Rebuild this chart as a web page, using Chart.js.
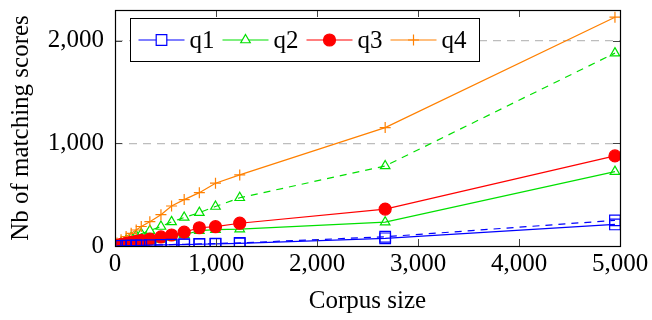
<!DOCTYPE html>
<html><head><meta charset="utf-8">
<script src="https://cdn.jsdelivr.net/npm/chart.js@4/dist/chart.umd.min.js"></script>
<style>html,body{margin:0;padding:0;background:#fff}canvas{display:block}</style>
</head><body>
<canvas id="c" width="652" height="320"></canvas>
<script>
// ---- data ----
const corpusSize = [20, 60, 110, 160, 210, 260, 345, 455, 560, 685, 835, 995, 1235, 2675, 4950];
const q1       = [1, 2, 3, 4, 5, 6, 8, 10, 12, 14, 17, 20, 26, 75, 210];
const q1Dashed = [1, 2, 3, 4, 5, 7, 9, 11, 14, 17, 20, 24, 30, 90, 250];
const q2       = [3, 8, 14, 20, 27, 35, 48, 65, 85, 110, 150, 160, 165, 232, 725];
const q2Dashed = [10, 30, 55, 80, 100, 120, 150, 190, 235, 278, 325, 385, 470, 780, 1880];
const q3       = [6, 15, 25, 35, 45, 54, 68, 88, 107, 135, 178, 188, 222, 360, 878];
const q4       = [30, 60, 92, 124, 156, 190, 237, 305, 390, 452, 520, 612, 693, 1154, 2230];
const xTickValues = [0, 1000, 2000, 3000, 4000, 5000];
const yTickValues = [0, 1000, 2000];
const legendLabels = ['q1', 'q2', 'q3', 'q4'];
const xTitle = 'Corpus size';
const yTitle = 'Nb of matching scores';

const FONT = "'Liberation Serif', 'Times New Roman', serif";
const FS = 25;
Chart.defaults.font.family = FONT;
Chart.defaults.font.size = FS;
Chart.defaults.color = '#000';

const BLUE = '#0000ff', GREEN = '#00e000', RED = '#ff0000', ORANGE = '#ff8000';

function pts(ys) { return corpusSize.map((x, i) => ({x, y: ys[i]})); }
function ds(label, ys, color, style, radius, opts) {
  return Object.assign({
    label, data: pts(ys),
    borderColor: color, backgroundColor: color,
    borderWidth: 1.2, pointStyle: style, pointRadius: radius,
    pointBorderColor: color, pointBackgroundColor: 'rgba(0,0,0,0)',
    pointBorderWidth: 1.2, tension: 0, fill: false
  }, opts || {});
}

const datasets = [
  ds(legendLabels[0], q1, BLUE, 'rect', 7.5, {legendIndex: 0}),
  ds(legendLabels[2], q3, RED, 'circle', 6, {legendIndex: 2, pointBackgroundColor: RED}),
  ds(legendLabels[3], q4, ORANGE, 'cross', 5.5, {legendIndex: 3}),
  ds(legendLabels[1], q2, GREEN, 'triangle', 5.5, {legendIndex: 1}),
  ds(legendLabels[0] + ' (dashed)', q1Dashed, BLUE, 'rect', 7.5, {borderDash: [7, 6]}),
  ds(legendLabels[1] + ' (dashed)', q2Dashed, GREEN, 'triangle', 5.5, {borderDash: [7, 6]})
];

function drawMarker(ctx, style, x, y, r) {
  ctx.beginPath();
  if (style === 'rect') {
    const s = r * Math.SQRT1_2;
    ctx.rect(x - s, y - s, 2 * s, 2 * s); ctx.fill(); ctx.stroke();
  } else if (style === 'circle') {
    ctx.arc(x, y, r, 0, Math.PI * 2); ctx.fill(); ctx.stroke();
  } else if (style === 'triangle') {
    for (let k = 0; k < 3; k++) {
      const a = -Math.PI / 2 + k * 2 * Math.PI / 3;
      const px = x + Math.cos(a) * r, py = y + Math.sin(a) * r;
      k ? ctx.lineTo(px, py) : ctx.moveTo(px, py);
    }
    ctx.closePath(); ctx.fill(); ctx.stroke();
  } else if (style === 'cross') {
    ctx.moveTo(x - r, y); ctx.lineTo(x + r, y);
    ctx.moveTo(x, y - r); ctx.lineTo(x, y + r); ctx.stroke();
  }
}

const framePlugin = {
  id: 'frame',
  afterDraw(chart) {
    const {ctx, chartArea: a, scales} = chart;
    ctx.save();
    // inward ticks
    ctx.strokeStyle = '#444'; ctx.lineWidth = 1;
    const tl = 7;
    xTickValues.forEach(v => {
      const px = Math.round(scales.x.getPixelForValue(v)) + 0.5;
      ctx.beginPath();
      ctx.moveTo(px, a.bottom); ctx.lineTo(px, a.bottom - tl);
      ctx.moveTo(px, a.top); ctx.lineTo(px, a.top + tl);
      ctx.stroke();
    });
    yTickValues.forEach(v => {
      const py = Math.round(scales.y.getPixelForValue(v)) + 0.5;
      ctx.beginPath();
      ctx.moveTo(a.left, py); ctx.lineTo(a.left + tl, py);
      ctx.moveTo(a.right, py); ctx.lineTo(a.right - tl, py);
      ctx.stroke();
    });
    // frame
    ctx.strokeStyle = '#000'; ctx.lineWidth = 1.2;
    ctx.strokeRect(Math.round(a.left) + 0.5, Math.round(a.top) + 0.5,
                   Math.round(a.right - a.left), Math.round(a.bottom - a.top));
    // legend
    const items = chart.data.datasets
      .filter(d => d.legendIndex !== undefined)
      .sort((p, q) => p.legendIndex - q.legendIndex);
    ctx.font = FS + 'px ' + FONT;
    const lineLen = 46, gapText = 5, gapItem = 8, padL = 8, padR = 13;
    let w = padL + padR;
    items.forEach((d, i) => { w += lineLen + gapText + ctx.measureText(d.label).width + (i ? gapItem : 0); });
    const bx = Math.round(a.left) + 15.5, by = Math.round(a.top) + 8.5, bh = 43;
    ctx.fillStyle = '#fff';
    ctx.fillRect(bx, by, w, bh);
    ctx.strokeStyle = '#000'; ctx.lineWidth = 1;
    ctx.strokeRect(bx, by, w, bh);
    let cx = bx + padL;
    const cy = by + bh / 2;
    items.forEach((d, i) => {
      if (i) cx += gapItem;
      ctx.strokeStyle = d.borderColor; ctx.lineWidth = 1.2;
      ctx.beginPath(); ctx.moveTo(cx, cy); ctx.lineTo(cx + lineLen, cy); ctx.stroke();
      ctx.fillStyle = d.pointBackgroundColor === RED ? RED : '#fff';
      drawMarker(ctx, d.pointStyle, cx + lineLen / 2, cy, d.pointRadius);
      cx += lineLen + gapText;
      ctx.fillStyle = '#000'; ctx.textBaseline = 'middle'; ctx.textAlign = 'left';
      ctx.fillText(d.label, cx, cy + 1);
      cx += ctx.measureText(d.label).width;
    });
    ctx.restore();
  }
};

new Chart(document.getElementById('c'), {
  type: 'line',
  data: {datasets},
  options: {
    responsive: false, animation: false, devicePixelRatio: 1,
    layout: {padding: {top: 10, right: 32, left: 0, bottom: 0}},
    plugins: {legend: {display: false}, tooltip: {enabled: false}},
    scales: {
      x: {
        type: 'linear', min: 0, max: 5000,
        afterFit(s) { s.height = 74; s.paddingLeft = 0; s.paddingRight = 0; },
        afterBuildTicks(s) { s.ticks = xTickValues.map(v => ({value: v})); },
        ticks: {padding: -5, maxRotation: 0, autoSkip: false},
        grid: {display: false},
        border: {display: false},
        title: {display: true, text: xTitle, padding: {top: 0, bottom: 4}}
      },
      y: {
        type: 'linear', min: 0, max: 2300,
        afterFit(s) { s.width = 115; s.paddingTop = 0; s.paddingBottom = 0; },
        afterBuildTicks(s) { s.ticks = yTickValues.map(v => ({value: v})); },
        ticks: {padding: 11},
        grid: {
          drawTicks: false, lineWidth: 1.2,
          color: c => c.tick && c.tick.value === 0 ? 'rgba(0,0,0,0)' : '#bdbdbd'
        },
        border: {display: false, dash: [8, 6]},
        title: {display: true, text: yTitle, padding: {top: 6, bottom: 0}}
      }
    }
  },
  plugins: [framePlugin]
});
</script>
</body></html>
